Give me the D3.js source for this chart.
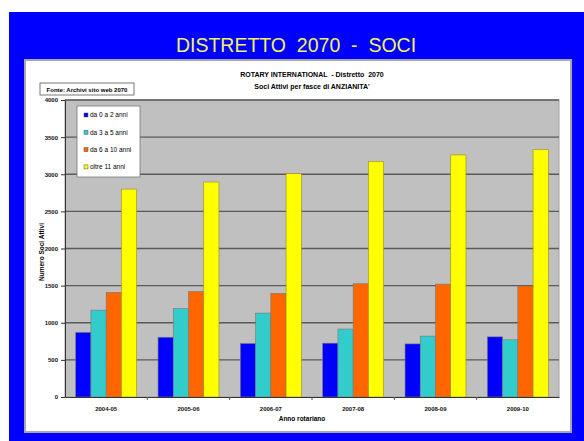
<!DOCTYPE html>
<html>
<head>
<meta charset="utf-8">
<script src="https://cdn.jsdelivr.net/npm/d3@7"></script>
<style>
  body { margin: 0; background: #fff; }
  svg { display: block; }
</style>
</head>
<body>
<svg id="chart" width="584" height="441" viewBox="0 0 584 441"></svg>
<script>
const years = ["2004-05", "2005-06", "2006-07", "2007-08", "2008-09", "2009-10"];
const seriesNames = ["da 0 a 2 anni", "da 3 a 5 anni", "da 6 a 10 anni", "oltre 11 anni"];
const seriesColors = ["#0000ff", "#33cccc", "#ff6600", "#ffff00"];
const da0a2 = [870, 805, 720, 725, 715, 810];
const da3a5 = [1170, 1190, 1130, 915, 820, 770];
const da6a10 = [1410, 1420, 1395, 1525, 1520, 1495];
const oltre11 = [2800, 2895, 3010, 3170, 3260, 3330];
const yTicks = [0, 500, 1000, 1500, 2000, 2500, 3000, 3500, 4000];

const series = [da0a2, da3a5, da6a10, oltre11];
const narrow = "'Liberation Sans Narrow', 'Arial Narrow', 'Liberation Sans', Arial, sans-serif";

const svg = d3.select("#chart");

// blue frame and white panel
svg.append("rect").attr("x", 9).attr("y", 12).attr("width", 575).attr("height", 429).attr("fill", "#0000ff");
svg.append("rect").attr("x", 25).attr("y", 60).attr("width", 546).attr("height", 372)
  .attr("fill", "#fff").attr("stroke", "#a8a8a8").attr("stroke-width", 2);

svg.append("text")
  .attr("x", 296).attr("y", 52)
  .attr("text-anchor", "middle")
  .attr("fill", "#f2f25a")
  .attr("font-family", "'Liberation Sans', Arial, sans-serif")
  .attr("font-size", 19.5)
  .attr("xml:space", "preserve")
  .text("DISTRETTO  2070  -  SOCI");

// chart titles
svg.append("text")
  .attr("x", 312).attr("y", 77)
  .attr("text-anchor", "middle")
  .attr("font-family", narrow).attr("font-weight", "bold").attr("font-size", 7)
  .attr("xml:space", "preserve")
  .text("ROTARY INTERNATIONAL  - Distretto  2070");
svg.append("text")
  .attr("x", 312).attr("y", 89)
  .attr("text-anchor", "middle")
  .attr("font-family", narrow).attr("font-weight", "bold").attr("font-size", 7)
  .text("Soci Attivi per fasce di ANZIANITA'");

// source box
svg.append("rect").attr("x", 40).attr("y", 83).attr("width", 94).attr("height", 12)
  .attr("fill", "#fff").attr("stroke", "#555").attr("stroke-width", 0.8);
svg.append("text")
  .attr("x", 87).attr("y", 91.5)
  .attr("text-anchor", "middle")
  .attr("font-family", narrow).attr("font-weight", "bold").attr("font-size", 6)
  .text("Fonte: Archivi sito web 2070");

const plot = { left: 65, top: 100, right: 559, bottom: 397 };

const x = d3.scaleBand().domain(years).range([plot.left, plot.right]).paddingInner(0.26).paddingOuter(0.13);
const xs = d3.scaleBand().domain(d3.range(4)).range([0, x.bandwidth()]);
const y = d3.scaleLinear().domain([0, 4000]).range([plot.bottom, plot.top]);

svg.append("rect")
  .attr("x", plot.left).attr("y", plot.top)
  .attr("width", plot.right - plot.left).attr("height", plot.bottom - plot.top)
  .attr("fill", "#c0c0c0").attr("stroke", "#a0a0a0");

svg.append("g")
  .selectAll("line")
  .data(yTicks.filter((t) => t > 0))
  .join("line")
  .attr("x1", plot.left).attr("x2", plot.right)
  .attr("y1", (d) => y(d)).attr("y2", (d) => y(d))
  .attr("stroke", "#5a5a5a").attr("stroke-width", 1.3);

const groups = svg.append("g")
  .selectAll("g")
  .data(years)
  .join("g")
  .attr("transform", (d) => `translate(${x(d)},0)`);

groups.selectAll("rect")
  .data((d, i) => series.map((s, k) => ({ k, v: s[i] })))
  .join("rect")
  .attr("x", (d) => xs(d.k))
  .attr("y", (d) => y(d.v))
  .attr("width", xs.bandwidth())
  .attr("height", (d) => y(0) - y(d.v))
  .attr("fill", (d) => seriesColors[d.k])
  .attr("stroke", (d) => (d.k === 3 ? "#9a8a20" : "#777"))
  .attr("stroke-width", 0.6);

// axes
const yAxis = svg.append("g")
  .attr("transform", `translate(${plot.left},0)`)
  .call(d3.axisLeft(y).tickValues(yTicks).tickFormat(d3.format("d")).tickSize(4).tickSizeOuter(0).tickPadding(3));
yAxis.select(".domain").attr("stroke", "#333");
yAxis.selectAll("line").attr("stroke", "#333");
yAxis.selectAll("text").attr("font-family", narrow).attr("font-weight", "bold").attr("font-size", 6).attr("fill", "#111");

const xAxis = svg.append("g")
  .attr("transform", `translate(0,${plot.bottom})`)
  .call(d3.axisBottom(x).tickSize(0).tickPadding(10));
xAxis.select(".domain").attr("stroke", "#333");
xAxis.selectAll("text").attr("font-family", narrow).attr("font-weight", "bold").attr("font-size", 6).attr("fill", "#111");

svg.append("g")
  .selectAll("line")
  .data(years.slice(1))
  .join("line")
  .attr("x1", (d) => x(d) - x.step() * x.paddingInner() / 2)
  .attr("x2", (d) => x(d) - x.step() * x.paddingInner() / 2)
  .attr("y1", plot.bottom).attr("y2", plot.bottom + 3)
  .attr("stroke", "#555");

svg.append("text")
  .attr("x", 302).attr("y", 421)
  .attr("text-anchor", "middle")
  .attr("font-family", narrow).attr("font-weight", "bold").attr("font-size", 6.5)
  .text("Anno rotariano");

svg.append("text")
  .attr("transform", "translate(44,252) rotate(-90)")
  .attr("text-anchor", "middle")
  .attr("font-family", narrow).attr("font-weight", "bold").attr("font-size", 6.5)
  .text("Numero Soci Attivi");

// legend
const legend = svg.append("g").attr("transform", "translate(77,106)");
legend.append("rect").attr("width", 63).attr("height", 71)
  .attr("fill", "#fff").attr("stroke", "#777").attr("stroke-width", 0.8);
const items = legend.selectAll("g.item")
  .data(seriesNames)
  .join("g")
  .attr("class", "item")
  .attr("transform", (d, i) => `translate(7,${9 + i * 17.3})`);
items.append("rect")
  .attr("x", 0).attr("y", -2).attr("width", 4).attr("height", 4)
  .attr("fill", (d, i) => seriesColors[i]).attr("stroke", "#555").attr("stroke-width", 0.5);
items.append("text")
  .attr("x", 6).attr("y", 2.2)
  .attr("font-family", narrow).attr("font-size", 6.5)
  .text((d) => d);
</script>
</body>
</html>
